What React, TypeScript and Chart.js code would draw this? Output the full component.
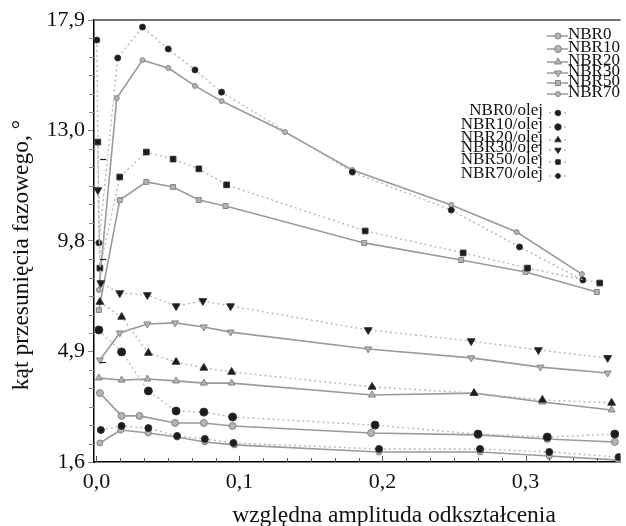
import React, { useEffect, useRef } from 'react';
import { Chart, registerables } from 'chart.js';
import { drawPoint } from 'chart.js/helpers';

Chart.register(...registerables);

// ---------- axes ----------
const X_MIN = -0.0017;
const X_MAX = 0.3664;
const X_TICKS = [0, 0.1, 0.2, 0.3];
const X_TICK_LABELS = ['0,0', '0,1', '0,2', '0,3'];
const Y_MIN = 1.6;
const Y_MAX = 17.9;
const Y_TICKS = [1.6, 5.675, 9.75, 13.825, 17.9];
const Y_TICK_LABELS = ['1,6', '4,9', '9,8', '13,0', '17,9'];
const Y_INNER_MARKS = [12.77, 9.09, 5.29];
const X_TITLE = 'względna amplituda odkształcenia';
const Y_TITLE = 'kąt przesunięcia fazowego, °';

// ---------- series ----------
const NBR0_X = [0.0024, 0.017, 0.0363, 0.0564, 0.0758, 0.0965, 0.1976, 0.2682, 0.3166, 0.3651];
const NBR0_Y = [2.3, 2.78, 2.67, 2.52, 2.34, 2.23, 1.97, 1.97, 1.82, 1.67];
const NBR10_X = [0.0024, 0.0176, 0.0301, 0.055, 0.0751, 0.0952, 0.192, 0.2668, 0.3152, 0.3624];
const NBR10_Y = [4.14, 3.3, 3.3, 3.04, 3.04, 2.93, 2.67, 2.6, 2.45, 2.34];
const NBR20_X = [0.0017, 0.0176, 0.0356, 0.0557, 0.0751, 0.0945, 0.1927, 0.264, 0.3118, 0.3602];
const NBR20_Y = [4.7, 4.62, 4.66, 4.59, 4.51, 4.51, 4.07, 4.14, 3.81, 3.52];
const NBR30_X = [0.0024, 0.0163, 0.0356, 0.055, 0.0751, 0.0938, 0.19, 0.262, 0.3104, 0.3574];
const NBR30_Y = [5.36, 6.36, 6.69, 6.73, 6.58, 6.39, 5.77, 5.44, 5.1, 4.88];
const NBR50_X = [0.0017, 0.0163, 0.0349, 0.0536, 0.0716, 0.0903, 0.1872, 0.255, 0.3, 0.3498];
const NBR50_Y = [7.2, 11.26, 11.93, 11.74, 11.26, 11.04, 9.68, 9.05, 8.61, 7.87];
const NBR70_X = [0.0017, 0.0142, 0.0322, 0.0502, 0.0689, 0.0875, 0.1318, 0.1789, 0.2481, 0.2938, 0.3394];
const NBR70_Y = [7.94, 15.02, 16.42, 16.13, 15.47, 14.91, 13.77, 12.37, 11.08, 10.08, 8.53];

const NBR0_OLEJ_X = [0.0031, 0.0176, 0.0363, 0.0564, 0.0758, 0.0958, 0.1976, 0.2682, 0.3166, 0.3651];
const NBR0_OLEJ_Y = [2.78, 2.93, 2.85, 2.56, 2.45, 2.3, 2.08, 2.08, 1.97, 1.78];
const NBR10_OLEJ_X = [0.0017, 0.0176, 0.0363, 0.0557, 0.0751, 0.0952, 0.1948, 0.2668, 0.3152, 0.3624];
const NBR10_OLEJ_Y = [6.47, 5.66, 4.22, 3.48, 3.44, 3.26, 2.96, 2.63, 2.52, 2.63];
const NBR20_OLEJ_X = [0.0024, 0.0176, 0.0363, 0.0557, 0.0751, 0.0945, 0.1927, 0.264, 0.3118, 0.3602];
const NBR20_OLEJ_Y = [7.5, 6.95, 5.62, 5.29, 5.07, 4.92, 4.37, 4.14, 3.89, 3.78];
const NBR30_OLEJ_X = [0.001, 0.0031, 0.0163, 0.0356, 0.0557, 0.0744, 0.0938, 0.19, 0.262, 0.309, 0.3574];
const NBR30_OLEJ_Y = [11.63, 8.2, 7.83, 7.76, 7.35, 7.54, 7.35, 6.47, 6.06, 5.73, 5.44];
const NBR50_OLEJ_X = [0.001, 0.0024, 0.0163, 0.0349, 0.0536, 0.0716, 0.091, 0.1879, 0.2564, 0.3014, 0.3519];
const NBR50_OLEJ_Y = [13.4, 8.75, 12.11, 13.03, 12.77, 12.41, 11.82, 10.12, 9.31, 8.75, 8.2];
const NBR70_OLEJ_X = [0.0003, 0.0017, 0.0149, 0.0322, 0.0502, 0.0689, 0.0875, 0.1789, 0.2481, 0.2958, 0.3401];
const NBR70_OLEJ_Y = [17.16, 9.68, 16.5, 17.64, 16.83, 16.06, 15.24, 12.29, 10.89, 9.53, 8.31];

const FONT = '"Liberation Serif", "Times New Roman", serif';
const GRAY_LINE = '#9a9a9a';
const GRAY_FILL = '#b4b4b4';
const GRAY_EDGE = '#858585';
const OLEJ_LINE = '#b8b8b8';
const OLEJ_FILL = '#1c1c1c';

type Style = { pointStyle: string; radius: number; rotation: number };

const PLAIN: { label: string; xs: number[]; ys: number[]; st: Style }[] = [
  { label: 'NBR0', xs: NBR0_X, ys: NBR0_Y, st: { pointStyle: 'circle', radius: 3, rotation: 0 } },
  { label: 'NBR10', xs: NBR10_X, ys: NBR10_Y, st: { pointStyle: 'circle', radius: 3.5, rotation: 0 } },
  { label: 'NBR20', xs: NBR20_X, ys: NBR20_Y, st: { pointStyle: 'triangle', radius: 4, rotation: 0 } },
  { label: 'NBR30', xs: NBR30_X, ys: NBR30_Y, st: { pointStyle: 'triangle', radius: 4, rotation: 180 } },
  { label: 'NBR50', xs: NBR50_X, ys: NBR50_Y, st: { pointStyle: 'rect', radius: 3.5, rotation: 0 } },
  { label: 'NBR70', xs: NBR70_X, ys: NBR70_Y, st: { pointStyle: 'circle', radius: 2.5, rotation: 0 } },
];
const OLEJ: { label: string; xs: number[]; ys: number[]; st: Style }[] = [
  { label: 'NBR0/olej', xs: NBR0_OLEJ_X, ys: NBR0_OLEJ_Y, st: { pointStyle: 'circle', radius: 3.5, rotation: 0 } },
  { label: 'NBR10/olej', xs: NBR10_OLEJ_X, ys: NBR10_OLEJ_Y, st: { pointStyle: 'circle', radius: 4, rotation: 0 } },
  { label: 'NBR20/olej', xs: NBR20_OLEJ_X, ys: NBR20_OLEJ_Y, st: { pointStyle: 'triangle', radius: 4.5, rotation: 0 } },
  { label: 'NBR30/olej', xs: NBR30_OLEJ_X, ys: NBR30_OLEJ_Y, st: { pointStyle: 'triangle', radius: 4.5, rotation: 180 } },
  { label: 'NBR50/olej', xs: NBR50_OLEJ_X, ys: NBR50_OLEJ_Y, st: { pointStyle: 'rect', radius: 4, rotation: 0 } },
  { label: 'NBR70/olej', xs: NBR70_OLEJ_X, ys: NBR70_OLEJ_Y, st: { pointStyle: 'circle', radius: 3, rotation: 0 } },
];

const LEGEND1_ROWS = [35, 48, 61, 72, 82, 93];
const LEGEND2_ROWS = [111, 125, 138, 148, 160, 174];

const decor = {
  id: 'decor',
  afterDraw(chart: any) {
    const { ctx, chartArea: ca, scales } = chart;
    const xs = scales.x;
    const ys = scales.y;
    const line = (x1: number, y1: number, x2: number, y2: number) => {
      ctx.beginPath();
      ctx.moveTo(x1, y1);
      ctx.lineTo(x2, y2);
      ctx.stroke();
    };
    ctx.save();
    // top frame line
    ctx.strokeStyle = '#707070';
    ctx.lineWidth = 2;
    line(ca.left, ca.top, ca.right, ca.top);
    // y minor ticks (outside)
    ctx.strokeStyle = '#8a8a8a';
    ctx.lineWidth = 1;
    for (let i = 0; i < Y_TICKS.length - 1; i++) {
      const a = Y_TICKS[i];
      const b = Y_TICKS[i + 1];
      for (let k = 1; k < 6; k++) {
        const py = Math.round(ys.getPixelForValue(a + ((b - a) * k) / 6)) + 0.5;
        line(ca.left - 5, py, ca.left, py);
      }
    }
    // x ticks (inside)
    ctx.strokeStyle = '#555';
    for (let k = 0; k * (0.1 / 6) <= X_MAX; k++) {
      const px = Math.round(xs.getPixelForValue((k * 0.1) / 6)) + 0.5;
      line(px, ca.bottom, px, ca.bottom - (k % 6 === 0 ? 6 : 4));
    }
    // small inner dashes near y axis
    ctx.strokeStyle = '#222';
    ctx.lineWidth = 1.2;
    Y_INNER_MARKS.forEach((v) => {
      const py = Math.round(ys.getPixelForValue(v)) + 0.5;
      line(ca.left + 6, py, ca.left + 12, py);
    });

    // titles
    ctx.fillStyle = '#111';
    ctx.font = `23.5px ${FONT}`;
    ctx.textAlign = 'center';
    ctx.textBaseline = 'middle';
    ctx.fillText(X_TITLE, 394, 516);
    ctx.save();
    ctx.translate(22, 255);
    ctx.rotate(-Math.PI / 2);
    ctx.fillText(Y_TITLE, 0, 0);
    ctx.restore();

    // legends
    ctx.font = `17px ${FONT}`;
    ctx.textBaseline = 'middle';
    PLAIN.forEach((s, i) => {
      const y = LEGEND1_ROWS[i];
      ctx.strokeStyle = GRAY_LINE;
      ctx.lineWidth = 1.5;
      ctx.setLineDash([]);
      line(547, y + 1, 568, y + 1);
      ctx.fillStyle = GRAY_FILL;
      ctx.strokeStyle = GRAY_EDGE;
      ctx.lineWidth = 1;
      drawPoint(ctx, { pointStyle: s.st.pointStyle, radius: s.st.radius, rotation: s.st.rotation, borderWidth: 1 }, 558, y + 1);
      ctx.fillStyle = '#111';
      ctx.textAlign = 'left';
      ctx.fillText(s.label, 568, y);
    });
    OLEJ.forEach((s, i) => {
      const y = LEGEND2_ROWS[i];
      ctx.strokeStyle = OLEJ_LINE;
      ctx.lineWidth = 1.4;
      ctx.setLineDash([2, 3]);
      line(549, y + 2, 568, y + 2);
      ctx.setLineDash([]);
      ctx.fillStyle = OLEJ_FILL;
      ctx.strokeStyle = '#333';
      ctx.lineWidth = 1;
      drawPoint(ctx, { pointStyle: s.st.pointStyle, radius: s.st.radius * 0.8, rotation: s.st.rotation, borderWidth: 1 }, 558, y + 2);
      ctx.fillStyle = '#111';
      ctx.textAlign = 'right';
      ctx.fillText(s.label, 543, y);
    });
    ctx.restore();
  },
};

export default function App() {
  const ref = useRef<HTMLCanvasElement | null>(null);
  useEffect(() => {
    if (!ref.current) return;
    const toPts = (xs: number[], ys: number[]) => xs.map((x, i) => ({ x, y: ys[i] }));
    const datasets: any[] = [
      ...OLEJ.map((s) => ({
        label: s.label,
        data: toPts(s.xs, s.ys),
        showLine: true,
        borderColor: OLEJ_LINE,
        borderWidth: 1.4,
        borderDash: [2, 3],
        pointStyle: s.st.pointStyle,
        pointRadius: s.st.radius,
        pointRotation: s.st.rotation,
        pointBackgroundColor: OLEJ_FILL,
        pointBorderColor: '#333',
        pointBorderWidth: 1,
      })),
      ...PLAIN.map((s) => ({
        label: s.label,
        data: toPts(s.xs, s.ys),
        showLine: true,
        borderColor: GRAY_LINE,
        borderWidth: 1.6,
        pointStyle: s.st.pointStyle,
        pointRadius: s.st.radius,
        pointRotation: s.st.rotation,
        pointBackgroundColor: GRAY_FILL,
        pointBorderColor: GRAY_EDGE,
        pointBorderWidth: 1,
      })),
    ];
    const chart = new Chart(ref.current, {
      type: 'scatter',
      data: { datasets },
      options: {
        animation: false,
        responsive: false,
        devicePixelRatio: 1,
        layout: { padding: { left: 0, right: 0, top: 20, bottom: 0 } },
        plugins: { legend: { display: false }, tooltip: { enabled: false } },
        scales: {
          x: {
            type: 'linear',
            min: X_MIN,
            max: X_MAX,
            afterBuildTicks: (s: any) => {
              s.ticks = X_TICKS.map((v) => ({ value: v }));
            },
            afterFit: (s: any) => {
              s.height = 64;
            },
            ticks: {
              autoSkip: false,
              maxRotation: 0,
              padding: 7,
              color: '#111',
              font: { family: FONT, size: 22 },
              callback: (_v: any, i: number) => X_TICK_LABELS[i],
            },
            grid: { display: true, drawOnChartArea: false, drawTicks: false },
            border: { display: true, color: '#000', width: 1.5 },
          },
          y: {
            type: 'linear',
            min: Y_MIN,
            max: Y_MAX,
            afterBuildTicks: (s: any) => {
              s.ticks = Y_TICKS.map((v) => ({ value: v }));
            },
            afterFit: (s: any) => {
              s.width = 94;
            },
            ticks: {
              autoSkip: false,
              padding: 3,
              color: '#111',
              font: { family: FONT, size: 22 },
              callback: (_v: any, i: number) => Y_TICK_LABELS[i],
            },
            grid: { display: true, drawOnChartArea: false, drawTicks: true, tickLength: 6, color: '#888' },
            border: { display: true, color: '#000', width: 1.5 },
          },
        },
      },
      plugins: [decor],
    });
    return () => chart.destroy();
  }, []);
  return (
    <div style={{ position: 'fixed', left: 0, top: 0, width: 626, height: 526, background: '#fff' }}>
      <canvas ref={ref} width={626} height={526} style={{ width: 626, height: 526, display: 'block' }} />
    </div>
  );
}
